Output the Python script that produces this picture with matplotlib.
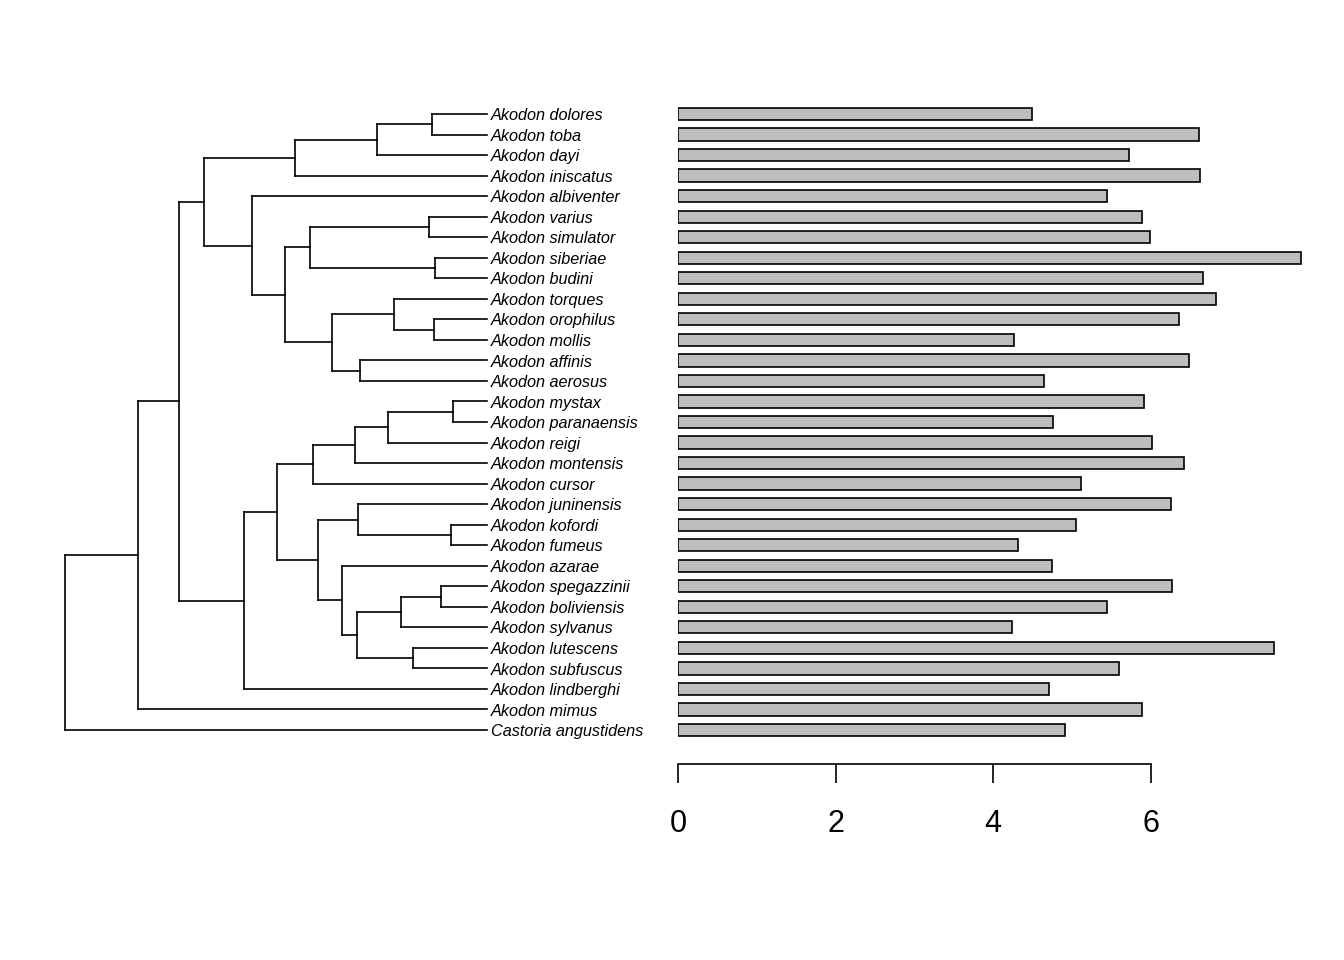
import numpy as np
import matplotlib.pyplot as plt

plt.rcParams['font.family'] = ['Liberation Sans', 'DejaVu Sans']

# tip labels, top to bottom
tips = ['Akodon dolores', 'Akodon toba', 'Akodon dayi', 'Akodon iniscatus',
        'Akodon albiventer', 'Akodon varius', 'Akodon simulator', 'Akodon siberiae',
        'Akodon budini', 'Akodon torques', 'Akodon orophilus', 'Akodon mollis',
        'Akodon affinis', 'Akodon aerosus', 'Akodon mystax', 'Akodon paranaensis',
        'Akodon reigi', 'Akodon montensis', 'Akodon cursor', 'Akodon juninensis',
        'Akodon kofordi', 'Akodon fumeus', 'Akodon azarae', 'Akodon spegazzinii',
        'Akodon boliviensis', 'Akodon sylvanus', 'Akodon lutescens', 'Akodon subfuscus',
        'Akodon lindberghi', 'Akodon mimus', 'Castoria angustidens']

# trait values for the bar plot
values = [4.49, 6.61, 5.72, 6.62, 5.44, 5.89, 5.99, 7.91, 6.66, 6.83, 6.36,
          4.26, 6.48, 4.64, 5.91, 4.76, 6.02, 6.42, 5.11, 6.26, 5.05, 4.31,
          4.75, 6.27, 5.44, 4.24, 7.56, 5.60, 4.71, 5.89, 4.91]

# tree: internal node = (depth, [children]); leaf = tip index; tips at depth 1
tree = (0.0, [
    (0.173, [
        (0.270, [
            (0.329, [
                (0.545, [(0.739, [(0.870, [0, 1]), 2]), 3]),
                (0.443, [4,
                         (0.521, [
                             (0.581, [(0.863, [5, 6]), (0.877, [7, 8])]),
                             (0.633, [(0.780, [9, (0.874, [10, 11])]),
                                      (0.699, [12, 13])])])])]),
            (0.424, [
                (0.502, [
                    (0.588, [(0.687, [(0.765, [(0.919, [14, 15]), 16]), 17]), 18]),
                    (0.600, [
                        (0.694, [19, (0.915, [20, 21])]),
                        (0.656, [22,
                                 (0.692, [(0.796, [(0.891, [23, 24]), 25]),
                                          (0.825, [26, 27])])])])]),
                28])]),
        29]),
    30])

W, H = 1344, 960
fig = plt.figure(figsize=(W / 100, H / 100), dpi=100)

n = len(tips)
step = (730 - 114) / (n - 1)
y_top, y_bot = 114 - step / 2, 730 + step / 2
ax_t = fig.add_axes([65 / W, 1 - y_bot / H, 422 / W, (y_bot - y_top) / H])
ax_b = fig.add_axes([678 / W, 1 - y_bot / H, 8 * 78.8 / W, (y_bot - y_top) / H])

lw = 1.2


def draw(node, parent_x):
    if isinstance(node, int):
        ax_t.plot([parent_x, 1.0], [node, node], color='black', lw=lw,
                  solid_capstyle='projecting', clip_on=False)
        return node
    depth, children = node
    ys = [draw(c, depth) for c in children]
    y = np.mean([ys[0], ys[-1]])
    ax_t.plot([depth, depth], [ys[0], ys[-1]], color='black', lw=lw,
              solid_capstyle='projecting', clip_on=False)
    if parent_x is not None:
        ax_t.plot([parent_x, depth], [y, y], color='black', lw=lw,
                  solid_capstyle='projecting', clip_on=False)
    return y


draw(tree, None)
for i, name in enumerate(tips):
    ax_t.text(1.0 + 4 / 422, i + 0.08, name, style='italic', fontsize=11.7,
              va='center', ha='left')
ax_t.set_xlim(0, 1)
ax_t.set_ylim(n - 0.5, -0.5)
ax_t.axis('off')

ypos = np.arange(n)
ax_b.barh(ypos, values, height=0.6, color='#bebebe', edgecolor='black', lw=1.2)
ax_b.set_xlim(0, 8)
ax_b.set_ylim(n - 0.5, -0.5)
for s in ['top', 'right', 'left']:
    ax_b.spines[s].set_visible(False)
ax_b.spines['bottom'].set_position(('outward', 17))
ax_b.spines['bottom'].set_bounds(0, 6)
ax_b.spines['bottom'].set_linewidth(1.2)
ax_b.set_xticks([0, 2, 4, 6])
ax_b.tick_params(axis='x', length=13.7, width=1.2, labelsize=22, pad=19)
ax_b.set_yticks([])

fig.savefig('out.png', dpi=100)
